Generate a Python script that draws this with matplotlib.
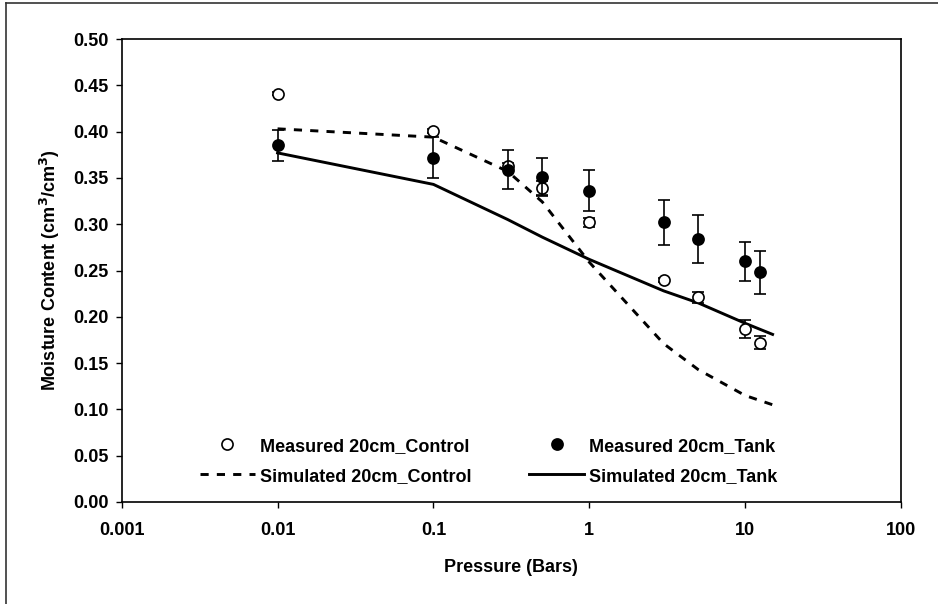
"""Moisture content vs pressure: measured and simulated, control vs tank."""
import matplotlib
matplotlib.use("Agg")
import matplotlib.pyplot as plt
from matplotlib.lines import Line2D

plt.rcParams['font.family'] = ['Liberation Sans', 'DejaVu Sans']
plt.rcParams['font.weight'] = 'bold'
plt.rcParams['mathtext.default'] = 'bf'

# measured points
pressure = [0.01, 0.1, 0.3, 0.5, 1, 3, 5, 10, 12.4]
control = [0.441, 0.401, 0.363, 0.339, 0.302, 0.240, 0.221, 0.187, 0.172]
control_err = [0.002, 0.002, 0.003, 0.008, 0.005, 0.002, 0.006, 0.0095, 0.007]
tank = [0.385, 0.372, 0.359, 0.351, 0.336, 0.302, 0.284, 0.260, 0.248]
tank_err = [0.017, 0.022, 0.021, 0.021, 0.022, 0.024, 0.026, 0.021, 0.023]

# simulated curves
sim_pressure = [0.01, 0.1, 0.3, 0.5, 1, 3, 5, 10, 15]
sim_control = [0.403, 0.394, 0.357, 0.324, 0.259, 0.171, 0.143, 0.115, 0.105]
sim_tank = [0.377, 0.343, 0.305, 0.286, 0.262, 0.228, 0.215, 0.193, 0.181]

xticks = [0.001, 0.01, 0.1, 1, 10, 100]
xtick_labels = ["0.001", "0.01", "0.1", "1", "10", "100"]
yticks = [i * 0.05 for i in range(11)]

FS = 13

fig = plt.figure(figsize=(9.38, 6.04), dpi=100)
ax = fig.add_axes([121.7 / 938, 1 - 502 / 604, (901 - 121.7) / 938, (502 - 39) / 604])

# simulated lines
ax.plot(sim_pressure, sim_control, color='black', lw=2.1, linestyle=(0, (2.8, 2.8)),
        label="Simulated 20cm_Control", zorder=2)
ax.plot(sim_pressure, sim_tank, color='black', lw=2.1, label="Simulated 20cm_Tank", zorder=2)

# measured control (open)
ax.errorbar(pressure, control, yerr=control_err, fmt='none', ecolor='black',
            elinewidth=1.2, capsize=4, capthick=1.2, zorder=3)
ax.plot(pressure, control, 'o', ms=8, mfc='white', mec='black', mew=1.2,
        linestyle='none', label="Measured 20cm_Control", zorder=4)

# measured tank (filled)
ax.errorbar(pressure, tank, yerr=tank_err, fmt='none', ecolor='black',
            elinewidth=1.2, capsize=4, capthick=1.2, zorder=5)
ax.plot(pressure, tank, 'o', ms=8, mfc='black', mec='black', mew=1.2,
        linestyle='none', label="Measured 20cm_Tank", zorder=6)

ax.set_xscale('log')
ax.set_xlim(0.001, 100)
ax.set_ylim(0, 0.5)
ax.set_xticks(xticks)
ax.set_xticklabels(xtick_labels)
ax.minorticks_off()
ax.set_yticks(yticks)
ax.set_yticklabels([f"{v:.2f}" for v in yticks])
ax.tick_params(direction='out', length=4.5, width=1, labelsize=FS)
ax.tick_params(axis='y', pad=5)
ax.tick_params(axis='x', pad=10)
for s in ax.spines.values():
    s.set_linewidth(1.2)

ax.set_xlabel("Pressure (Bars)", fontsize=FS, fontweight='bold', labelpad=14)
ax.set_ylabel("Moisture Content (cm$^3$/cm$^3$)", fontsize=FS,
              fontweight='bold', labelpad=8)

handles, labels = ax.get_legend_handles_labels()
order = [2, 0, 3, 1]
ax.legend([handles[i] for i in order], [labels[i] for i in order], ncol=2,
          loc='upper left', bbox_to_anchor=(0.1, 0.139), frameon=False,
          fontsize=FS, handlelength=3.05, handletextpad=0.28, columnspacing=3.2,
          labelspacing=0.72, borderpad=0, borderaxespad=0)

# outer frame (left and top edges visible)
fig.add_artist(Line2D([6 / 938, 6 / 938], [0, 1 - 3 / 604], color='#333333', lw=1.2))
fig.add_artist(Line2D([6 / 938, 1], [1 - 3 / 604, 1 - 3 / 604], color='#333333', lw=1.2))

fig.savefig("out.png", dpi=100)
